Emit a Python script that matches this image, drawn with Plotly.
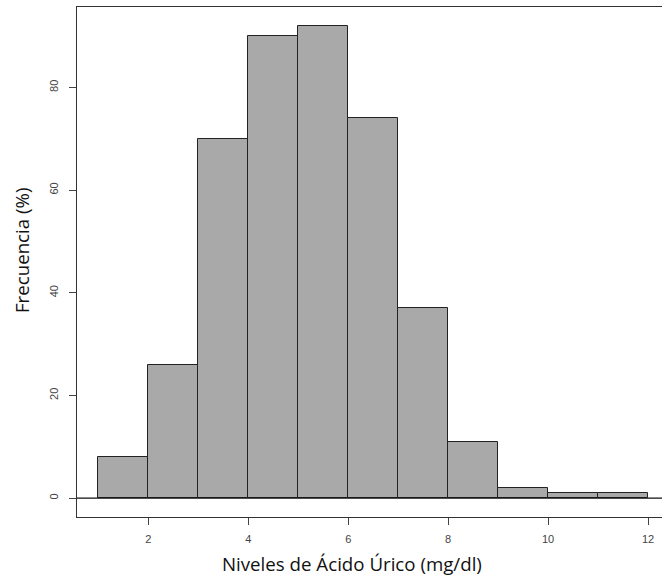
import plotly.graph_objects as go

# Histogram of uric acid levels: bin edges (mg/dl) and counts per bin
bin_starts = [1, 2, 3, 4, 5, 6, 7, 8, 9, 10, 11]
bin_ends = [2, 3, 4, 5, 6, 7, 8, 9, 10, 11, 12]
counts = [8, 26, 70, 90, 92, 74, 37, 11, 2, 1, 1]

x_ticks = [2, 4, 6, 8, 10, 12]
y_ticks = [0, 20, 40, 60, 80]

x_title = "Niveles de Ácido Úrico (mg/dl)"
y_title = "Frecuencia (%)"

centers = [(a + b) / 2 for a, b in zip(bin_starts, bin_ends)]
widths = [b - a for a, b in zip(bin_starts, bin_ends)]

fig = go.Figure()
fig.add_trace(go.Bar(
    x=centers,
    y=counts,
    width=widths,
    marker=dict(color="#A9A9A9", line=dict(color="#222222", width=1)),
    hoverinfo="x+y",
))

tick_font = dict(family="Liberation Sans, Arial, sans-serif", size=11, color="#444444")
title_font = dict(family="Open Sans, sans-serif", size=18.7, color="#111111")

fig.update_layout(
    width=662,
    height=577,
    margin=dict(l=77, r=0, t=7, b=60),
    paper_bgcolor="white",
    plot_bgcolor="white",
    showlegend=False,
    bargap=0,
    xaxis=dict(
        range=[0.571, 12.28],
        tickmode="array",
        tickvals=x_ticks,
        ticktext=[str(v) for v in x_ticks],
        ticks="outside",
        ticklen=7,
        tickcolor="#444444",
        tickfont=tick_font,
        ticklabelstandoff=5,
        showgrid=False,
        zeroline=False,
        showline=True,
        linecolor="#333333",
        linewidth=1,
        mirror=True,
    ),
    yaxis=dict(
        range=[-3.68, 95.68],
        tickmode="array",
        tickvals=y_ticks,
        ticktext=[str(v) for v in y_ticks],
        ticks="outside",
        ticklen=7,
        tickcolor="#444444",
        tickfont=tick_font,
        tickangle=-90,
        ticklabelstandoff=7,
        showgrid=False,
        zeroline=False,
        showline=True,
        linecolor="#333333",
        linewidth=1,
    ),
    shapes=[
        # horizontal reference line at zero
        dict(type="line", xref="paper", yref="y", x0=0, x1=1, y0=0, y1=0,
             line=dict(color="#111111", width=1.2)),
    ],
    annotations=[
        dict(text=x_title, xref="paper", yref="paper", x=0.470, y=-0.092,
             xanchor="center", yanchor="middle", showarrow=False, font=title_font),
        dict(text=y_title, xref="paper", yref="paper", x=-0.0957, y=0.5235,
             xanchor="center", yanchor="middle", textangle=-90, showarrow=False,
             font=title_font),
    ],
)

fig.write_html("out.html")
